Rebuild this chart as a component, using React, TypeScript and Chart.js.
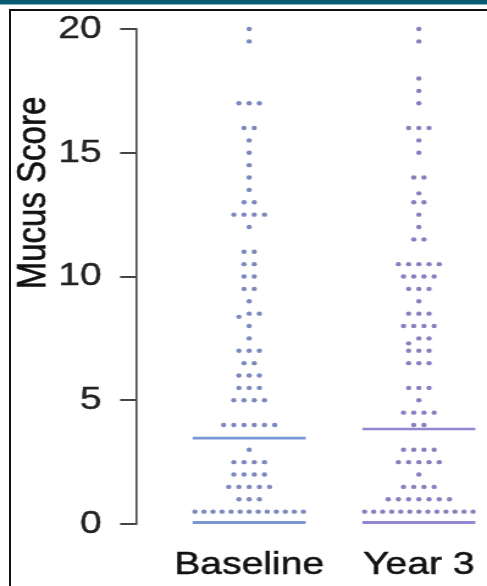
import React, { useEffect, useRef } from "react";
import { Chart, registerables } from "chart.js";

Chart.register(...registerables);

// ---------- data ----------
const categories = ["Baseline", "Year 3"];
const yTitle = "Mucus Score";
const yTicks = [0, 5, 10, 15, 20];

// each inner array = one stacked row of dots (one entry per participant)
const baselineRows: number[][] = [
  [20],
  [19.5],
  [17, 17, 17],
  [16, 16],
  [15.5],
  [15],
  [14.5],
  [14],
  [13.5],
  [13, 13],
  [12.5, 12.5, 12.5, 12.5],
  [12],
  [11, 11],
  [10.5, 10.5],
  [10, 10],
  [9.5, 9.5],
  [9],
  [8.37, 8.5, 8.5],
  [8],
  [7.5],
  [7, 7, 7],
  [6.5, 6.5],
  [6, 6, 6],
  [5.5, 5.5, 5.5],
  [5, 5, 5, 5],
  [4, 4, 4, 4, 4, 4],
  [3],
  [2.5, 2.5, 2.5, 2.5],
  [2, 2, 2, 2],
  [1.5, 1.5, 1.5, 1.5, 1.5],
  [1, 1, 1],
  [0.5, 0.5, 0.5, 0.5, 0.5, 0.5, 0.5, 0.5, 0.5, 0.5, 0.5, 0.5, 0.5],
];

const year3Rows: number[][] = [
  [20],
  [19.5],
  [18],
  [17.5],
  [17],
  [16, 16, 16],
  [15.5],
  [15],
  [14, 14],
  [13.36],
  [13, 13],
  [12.5],
  [12],
  [11.5, 11.5],
  [10.5, 10.5, 10.5, 10.5, 10.5],
  [10, 10, 10, 10],
  [9.5, 9.5, 9.5],
  [9],
  [8.5, 8.5, 8.5],
  [8, 8, 8, 8],
  [7.3, 7.5, 7.5],
  [7, 7, 7],
  [6.5, 6.5, 6.5],
  [5.5, 5.5, 5.5],
  [5],
  [4.5, 4.5, 4.5, 4.5],
  [4, 4],
  [3, 3, 3, 3],
  [2.5, 2.5, 2.5, 2.5, 2.5],
  [2],
  [1.5, 1.5, 1.5, 1.5],
  [1, 1, 1, 1, 1, 1, 1],
  [0.5, 0.5, 0.5, 0.5, 0.5, 0.5, 0.5, 0.5, 0.5, 0.5, 0.5, 0.5, 0.5],
];

const medians = [3.47, 3.84];
const zeroLevels = [0.06, 0.06];

// ---------- styling / layout ----------
const OUT_W = 487;
const OUT_H = 586;
const IN_W = 399; // drawn narrower then stretched horizontally like the reference
const FONT = '"Liberation Sans", Arial, Helvetica, sans-serif';

const dotColors = ["rgba(118,130,186,0.95)", "rgba(130,120,188,0.95)"];
const lineColors = ["#7b96d4", "#9485d2"];

const DOT_STEP = 0.0602;
const MAX_SPAN = 0.639;
const LINE_HALF = 0.333;

function layoutRows(rows: number[][], center: number) {
  const pts: { x: number; y: number }[] = [];
  for (const row of rows) {
    const n = row.length;
    const step = n > 1 ? Math.min(DOT_STEP, MAX_SPAN / (n - 1)) : 0;
    row.forEach((v, i) => {
      pts.push({ x: center + (i - (n - 1) / 2) * step, y: v });
    });
  }
  return pts;
}

function hLine(center: number, y: number) {
  return [
    { x: center - LINE_HALF, y },
    { x: center + LINE_HALF, y },
  ];
}

const yTitlePlugin = {
  id: "yTitleCustom",
  afterDraw(chart: any) {
    const ctx = chart.ctx;
    ctx.save();
    ctx.translate(36.5, 193);
    ctx.rotate(-Math.PI / 2);
    ctx.font = `33px ${FONT}`;
    ctx.fillStyle = "#111";
    ctx.strokeStyle = "#111";
    ctx.lineWidth = 0.6;
    ctx.textAlign = "center";
    ctx.textBaseline = "alphabetic";
    ctx.fillText(yTitle, 0, 0);
    ctx.strokeText(yTitle, 0, 0);
    ctx.restore();
  },
};

export default function App() {
  const canvasRef = useRef<HTMLCanvasElement | null>(null);

  useEffect(() => {
    document.body.style.margin = "0";
    document.body.style.background = "#fff";
    const canvas = canvasRef.current;
    if (!canvas) return;

    const rowsByCat = [baselineRows, year3Rows];
    const datasets: any[] = [];
    categories.forEach((name, i) => {
      const c = i + 1;
      datasets.push({
        type: "line",
        label: name + " median",
        data: hLine(c, medians[i]),
        borderColor: lineColors[i],
        borderWidth: 2.6,
        pointRadius: 0,
        showLine: true,
        clip: false,
        order: 2,
      });
      datasets.push({
        type: "line",
        label: name + " zero",
        data: hLine(c, zeroLevels[i]),
        borderColor: lineColors[i],
        borderWidth: 3,
        pointRadius: 0,
        showLine: true,
        clip: false,
        order: 2,
      });
      datasets.push({
        type: "scatter",
        label: name,
        data: layoutRows(rowsByCat[i], c),
        backgroundColor: dotColors[i],
        borderWidth: 0,
        pointRadius: 2.2,
        pointHoverRadius: 2.2,
        clip: false,
        order: 1,
      });
    });

    const chart = new Chart(canvas, {
      type: "scatter",
      data: { datasets },
      plugins: [yTitlePlugin],
      options: {
        animation: false,
        responsive: false,
        devicePixelRatio: 1,
        layout: { padding: { top: 29, left: 0, right: 0, bottom: 0 } },
        plugins: {
          legend: { display: false },
          tooltip: { enabled: false },
        },
        events: [],
        scales: {
          x: {
            type: "linear",
            position: "bottom",
            min: 0.333,
            max: 2.386,
            grid: { display: false, drawTicks: false },
            border: { display: false },
            afterBuildTicks: (scale: any) => {
              scale.ticks = categories.map((_, i) => ({ value: i + 1 }));
            },
            afterFit: (scale: any) => {
              scale.height = 62;
              scale.paddingLeft = 0;
              scale.paddingRight = 0;
            },
            ticks: {
              autoSkip: false,
              maxRotation: 0,
              padding: 22,
              color: "#111",
              textStrokeColor: "#111",
              textStrokeWidth: 0.5,
              font: { family: FONT, size: 32 },
              callback: (v: any) => categories[Number(v) - 1] ?? "",
            },
          },
          y: {
            type: "linear",
            min: 0,
            max: 20,
            afterBuildTicks: (scale: any) => {
              scale.ticks = yTicks.map((v) => ({ value: v }));
            },
            afterFit: (scale: any) => {
              scale.width = 111.4;
              scale.paddingTop = 0;
              scale.paddingBottom = 0;
            },
            grid: {
              display: true,
              drawOnChartArea: false,
              drawTicks: true,
              tickLength: 13,
              color: "#444",
              lineWidth: 2,
            },
            border: { display: true, color: "#444", width: 1.6 },
            ticks: {
              padding: 15,
              color: "#222",
              textStrokeColor: "#222",
              textStrokeWidth: 0.4,
              font: { family: FONT, size: 32 },
            },
          },
        },
      },
    });

    return () => chart.destroy();
  }, []);

  return (
    <div
      style={{
        position: "relative",
        width: OUT_W + "px",
        height: OUT_H + "px",
        overflow: "hidden",
        background: "#fff",
      }}
    >
      <div
        style={{
          position: "absolute",
          left: 0,
          top: 0,
          width: "100%",
          height: "4px",
          background: "#0a5a72",
        }}
      />
      <div
        style={{
          position: "absolute",
          left: 0,
          top: "4px",
          width: "100%",
          height: "1px",
          background: "#86b3c2",
        }}
      />
      <div
        style={{
          position: "absolute",
          left: "9px",
          top: "9px",
          right: 0,
          bottom: 0,
          borderTop: "2px solid #111",
          borderLeft: "2px solid #111",
        }}
      />
      <canvas
        ref={canvasRef}
        width={IN_W}
        height={OUT_H}
        style={{
          position: "absolute",
          left: 0,
          top: 0,
          width: OUT_W + "px",
          height: OUT_H + "px",
        }}
      />
    </div>
  );
}
